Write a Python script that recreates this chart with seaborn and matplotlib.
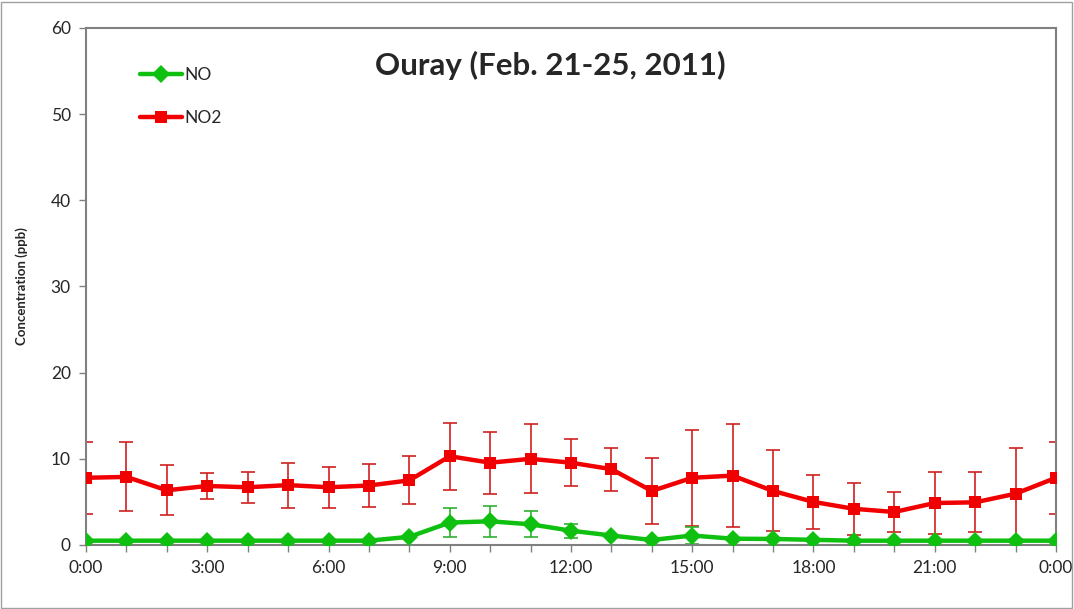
"""
Ouray (Feb. 21-25, 2011) — NO / NO2 日変化
"""

import matplotlib.pyplot as plt
import matplotlib.ticker as mticker
import pandas as pd
import seaborn as sns

# ─── データ ─────────────────────────────────────────────
hours = list(range(25))
no_mean = [0.5, 0.5, 0.5, 0.5, 0.5, 0.5, 0.5, 0.5, 0.95, 2.6, 2.75, 2.4, 1.66, 1.1,
           0.58, 1.1, 0.73, 0.7, 0.6, 0.5, 0.5, 0.5, 0.5, 0.5, 0.5]
no_err = [0, 0, 0, 0, 0, 0, 0, 0, 0, 1.7, 1.8, 1.5, 0.8, 0, 0, 1.0, 0, 0, 0, 0, 0, 0,
          0, 0, 0]
no2_mean = [7.8, 7.9, 6.35, 6.85, 6.7, 6.95, 6.7, 6.9, 7.5, 10.3, 9.55, 10.0, 9.55,
            8.8, 6.27, 7.8, 8.05, 6.27, 5.0, 4.2, 3.83, 4.87, 4.95, 5.95, 7.8]
no2_err = [4.2, 4.0, 2.9, 1.5, 1.8, 2.6, 2.4, 2.5, 2.8, 3.9, 3.6, 4.0, 2.7, 2.5,
           3.8, 5.6, 6.0, 4.7, 3.1, 3.0, 2.3, 3.6, 3.5, 5.3, 4.2]
tick_labels = ["0:00", "3:00", "6:00", "9:00", "12:00", "15:00", "18:00", "21:00", "0:00"]

df = pd.concat([
    pd.DataFrame({"hour": hours, "conc": no_mean, "err": no_err, "species": "NO"}),
    pd.DataFrame({"hour": hours, "conc": no2_mean, "err": no2_err, "species": "NO2"}),
])

PALETTE = {"NO": "#10C010", "NO2": "#F00000"}
ERRCOL = {"NO": "#30B030", "NO2": "#D02020"}
MARKERS = {"NO": "D", "NO2": "s"}

sns.set_theme(style="white")
plt.rcParams["font.family"] = ["Lato", "DejaVu Sans"]

fig = plt.figure(figsize=(10.74, 6.09), dpi=100, facecolor="white")
ax = fig.add_axes([0.0801, 0.1051, 0.9031, 0.849])

# エラーバー（線の下）
for sp in ["NO2", "NO"]:
    sub = df[df["species"] == sp]
    ax.errorbar(sub["hour"], sub["conc"], yerr=sub["err"], fmt="none",
                ecolor=ERRCOL[sp], elinewidth=1.2, capsize=5, capthick=1.2, zorder=2)

sns.lineplot(data=df, x="hour", y="conc", hue="species", style="species",
             palette=PALETTE, markers=MARKERS, dashes=False, linewidth=3.2,
             markersize=9, markeredgewidth=0, ax=ax, zorder=3)

ax.set_xlim(0, 24)
ax.set_ylim(0, 60)
ax.xaxis.set_minor_locator(mticker.MultipleLocator(1))
ax.set_xticks(list(range(0, 25, 3)))
ax.set_xticklabels(tick_labels)
ax.yaxis.set_major_locator(mticker.MultipleLocator(10))
ax.tick_params(axis="both", which="both", direction="out", length=5, width=1,
               color="#808080", labelsize=12.5, pad=6, bottom=True, left=True)
ax.set_xlabel("")
ax.set_ylabel("Concentration (ppb)", fontsize=9.5, fontweight="bold", labelpad=16)

for s in ax.spines.values():
    s.set_color("#808080")
    s.set_linewidth(1.5)

ax.text(0.479, 0.928, "Ouray (Feb. 21-25, 2011)", transform=ax.transAxes, ha="center",
        va="center", fontsize=22.5, fontweight="bold")

leg = ax.legend(loc="upper left", bbox_to_anchor=(0.04, 0.955), frameon=False,
                fontsize=12.5, handlelength=2.4, handletextpad=0.15, labelspacing=1.55)
leg.set_title(None)

# 外枠
fig.patches.append(plt.Rectangle((0.001, 0.002), 0.997, 0.994, transform=fig.transFigure,
                                 fill=False, edgecolor="#A0A0A0", linewidth=1))

fig.savefig("out.png", dpi=100, facecolor="white")
